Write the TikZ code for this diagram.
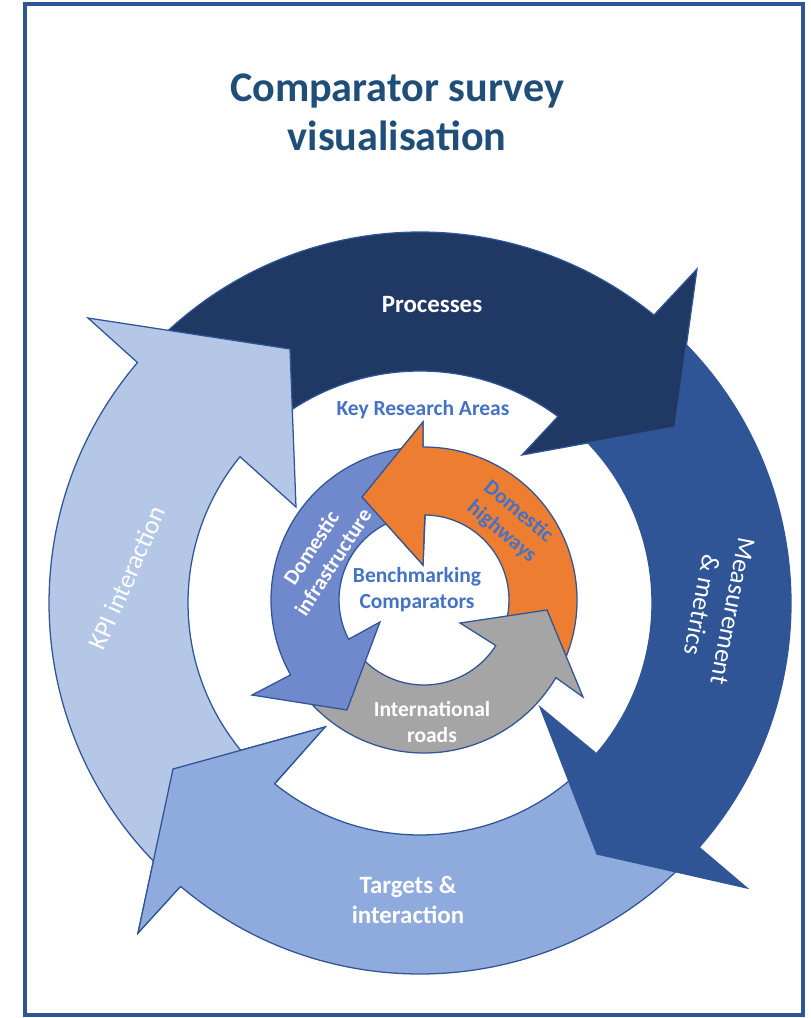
\documentclass[tikz,border=0pt]{standalone}
\usepackage{fontspec}
\setmainfont{Carlito}
\usepackage{xcolor}
\usepackage{tikz}
\usetikzlibrary{positioning}
\definecolor{framecol}{HTML}{2F5597}
\definecolor{titlecol}{HTML}{1F4E79}
\definecolor{textblue}{HTML}{4472C4}
\definecolor{processes}{HTML}{203864}
\definecolor{measure}{HTML}{2F5597}
\definecolor{targets}{HTML}{8FAADC}
\definecolor{kpi}{HTML}{B4C7E7}
\definecolor{infra}{HTML}{6F89CC}
\definecolor{highways}{HTML}{ED7D31}
\definecolor{intl}{HTML}{A5A5A5}
\tikzstyle{ring} = [draw=framecol, line width=0.9pt, line join=miter]
\tikzstyle{titletext} = [text=titlecol, font=\bfseries\fontsize{30}{35}\selectfont, align=center, inner sep=0pt]
\tikzstyle{outerlabel} = [text=white, font=\bfseries\fontsize{17.7}{21.3}\selectfont, align=center, inner sep=0pt]
\tikzstyle{outerthin} = [text=white, font=\fontsize{18.5}{22.6}\selectfont, align=center, inner sep=0pt]
\tikzstyle{innerlabel} = [text=white, font=\bfseries\fontsize{15.3}{18.5}\selectfont, align=center, inner sep=0pt]
\tikzstyle{areatext} = [text=textblue, font=\bfseries\fontsize{15.3}{18.5}\selectfont, align=center, inner sep=0pt]

\begin{document}
\begin{tikzpicture}[x=0.025cm, y=0.025cm]
		\useasboundingbox (0,0) rectangle (810,-1018);
		\draw [framecol, line width=3.5pt] (25,-4) rectangle (803,-1015);
		\node (title) at (397,-112) [titletext] {Comparator survey\\visualisation};
		\begin{scope}[shift={(420,-603)}]
			\filldraw [ring, fill=targets] (-44:371) arc[start angle=-44, end angle=-130.2, radius=371] -- (-282,-330) -- (-247,-166) -- (-95,-124) -- (-128.8:232) arc[start angle=-128.8, end angle=-44, radius=232] -- cycle;
			\filldraw [ring, fill=measure] (48:371) arc[start angle=48, end angle=-41.2, radius=371] -- (327,-285) -- (177,-251) -- (120,-104) -- (-40.5:232) arc[start angle=-40.5, end angle=48, radius=232] -- cycle;
			\filldraw [ring, fill=processes] (135:371) arc[start angle=135, end angle=50.9, radius=371] -- (277,334) -- (255,176) -- (102,148) -- (53.5:232) arc[start angle=53.5, end angle=135, radius=232] -- cycle;
			\filldraw [ring, fill=kpi] (226:371) arc[start angle=226, end angle=139.6, radius=371] -- (-332,285) -- (-130,254) -- (-124,96) -- (140.9:232) arc[start angle=140.9, end angle=226, radius=232] -- cycle;
			\fill [targets] (-282,-330) -- (-247,-166) -- (-95,-124) -- cycle;
			\draw [ring] (-130.2:371) -- (-282,-330) -- (-247,-166) -- (-95,-124) -- (-128.8:232);
		\end{scope}
		\begin{scope}[shift={(424,-600)}]
			\filldraw [ring, fill=highways] (-30:153) arc[start angle=-30, end angle=90.4, radius=153] -- (-1,178) -- (-62,103) -- (-1,35) -- (89.3:85) arc[start angle=89.3, end angle=-30, radius=85] -- cycle;
			\filldraw [ring, fill=intl] (212:153) arc[start angle=212, end angle=329.5, radius=153] -- (159,-97) -- (123,-10) -- (36,-23) -- (327.6:85) arc[start angle=327.6, end angle=212, radius=85] -- cycle;
			\filldraw [ring, fill=infra] (95:153) arc[start angle=95, end angle=209.3, radius=153] -- (-172,-95) -- (-77,-110) -- (-44,-22) -- (207.5:85) arc[start angle=207.5, end angle=95, radius=85] -- cycle;
			\fill [highways] (-1,178) -- (-62,103) -- (-1,35) -- cycle;
			\draw [ring] (90.4:153) -- (-1,178) -- (-62,103) -- (-1,35) -- (89.3:85);
		\end{scope}
		\node (Processes) at (432,-305) [outerlabel] {Processes};
		\node (Measurement) at (717,-608) [outerthin, rotate=-101] {Measurement\\\& metrics};
		\node (Targets) at (408,-900) [outerlabel] {Targets \&\\interaction};
		\node (KPI) at (127,-578) [outerthin, rotate=66] {KPI interaction};
		\node (Key Areas) at (423,-410) [areatext] {Key Research Areas};
		\node (Benchmarking) at (417,-590) [areatext] {Benchmarking\\Comparators};
		\node (International) at (432,-722) [innerlabel] {International\\roads};
		\node (Infrastructure) at (322,-555) [innerlabel, rotate=57] {Domestic\\infrastructure};
		\node (Highways) at (510,-522) [innerlabel, text=textblue, rotate=-40] {Domestic\\highways};
	\end{tikzpicture}
\end{document}
